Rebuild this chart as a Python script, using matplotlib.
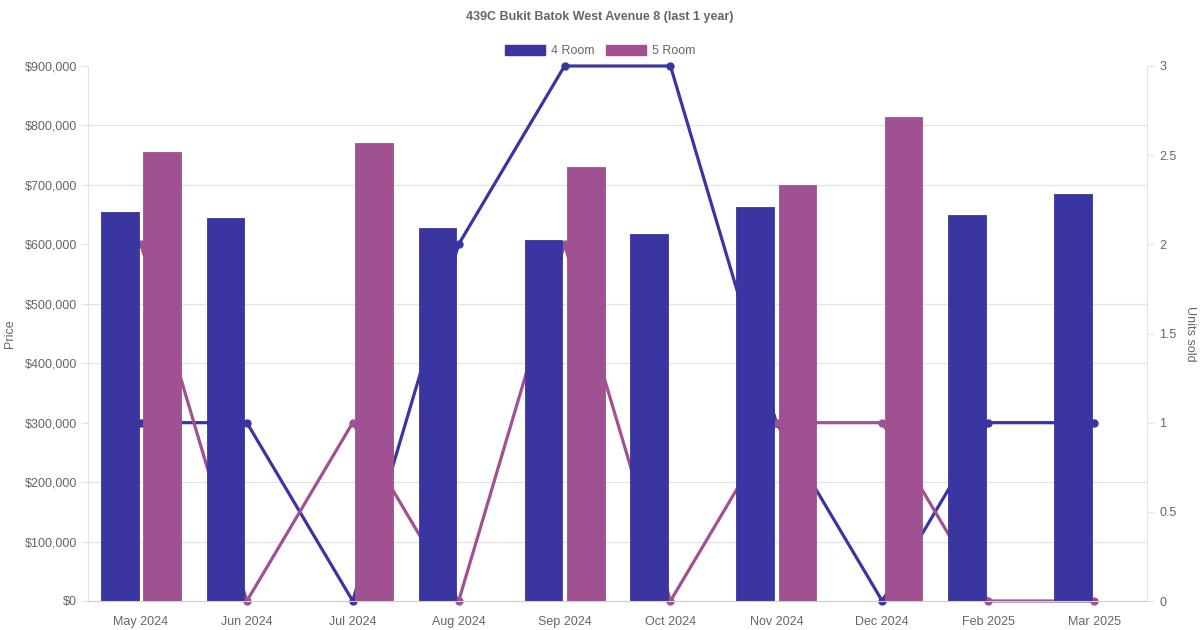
import matplotlib
matplotlib.use("Agg")
import matplotlib.pyplot as plt
from matplotlib.patches import Patch
from matplotlib.ticker import FuncFormatter, MultipleLocator
import numpy as np

plt.rcParams['font.family'] = ['Liberation Sans', 'DejaVu Sans']

months = ["May 2024", "Jun 2024", "Jul 2024", "Aug 2024", "Sep 2024",
          "Oct 2024", "Nov 2024", "Dec 2024", "Feb 2025", "Mar 2025"]
price_4room = [655000, 645000, np.nan, 628000, 607000, 617000, 663000, np.nan, 650000, 685000]
price_5room = [755000, np.nan, 770000, np.nan, 730000, np.nan, 700000, 815000, np.nan, np.nan]
units_4room = [1, 1, 0, 2, 3, 3, 1, 0, 1, 1]
units_5room = [2, 0, 1, 0, 2, 0, 1, 1, 0, 0]

c4 = "#3a35a0"
c5 = "#a05192"
grid_c = "#e4e4e4"
text_c = "#666666"

fig = plt.figure(figsize=(12, 6.3), dpi=100)
ax2 = fig.add_axes([88/1200, 29/630, (1147-88)/1200, (601-66)/630])
ax = ax2.twinx()
# bars on top of lines
ax.set_zorder(ax2.get_zorder() + 1)
ax.patch.set_visible(False)

x = np.arange(len(months))
w = 0.355
ax.bar(x - 0.2, price_4room, width=w, color=c4, edgecolor=c4, linewidth=0.6, joinstyle='round', zorder=3)
ax.bar(x + 0.2, price_5room, width=w, color=c5, edgecolor=c5, linewidth=0.6, joinstyle='round', zorder=3)

ax2.plot(x, units_4room, color=c4, lw=2.3, marker='o', ms=5, zorder=3, clip_on=False)
ax2.plot(x, units_5room, color=c5, lw=2.3, marker='o', ms=5, zorder=3, clip_on=False)

# axes limits
ax.set_xlim(-0.5, len(months) - 0.5)
ax2.set_xlim(-0.5, len(months) - 0.5)
ax.set_ylim(0, 900000)
ax2.set_ylim(0, 3)

# price axis is on the left, units on the right
ax.yaxis.tick_left()
ax.yaxis.set_label_position("left")
ax2.yaxis.tick_right()
ax2.yaxis.set_label_position("right")

ax.yaxis.set_major_locator(MultipleLocator(100000))
ax.yaxis.set_major_formatter(FuncFormatter(lambda v, p: "${:,.0f}".format(v)))
ax2.yaxis.set_major_locator(MultipleLocator(0.5))
ax2.yaxis.set_major_formatter(FuncFormatter(lambda v, p: "{:g}".format(v)))

# grid drawn on lower axes, aligned with price ticks
ax2.yaxis.set_minor_locator(MultipleLocator(1/3))
ax2.grid(True, which='minor', axis='y', color=grid_c, lw=0.9, zorder=0)
ax2.grid(False, which='major')
ax2.tick_params(axis='y', which='minor', length=0)
ax2.set_axisbelow(True)

ax2.set_xticks(x)
ax2.set_xticklabels(months)
ax2.tick_params(axis='x', length=0, pad=11, labelsize=9, labelcolor=text_c)
ax.tick_params(axis='y', length=5, width=0.9, color=grid_c, pad=3, labelsize=9, labelcolor=text_c)
ax2.tick_params(axis='y', which='major', length=5, width=0.9, color=grid_c, pad=4, labelsize=9, labelcolor=text_c)

for a in (ax, ax2):
    for s in a.spines.values():
        s.set_visible(False)
ax2.spines['left'].set_visible(True)
ax2.spines['left'].set_color(grid_c)
ax2.spines['right'].set_visible(True)
ax2.spines['right'].set_color(grid_c)
ax.spines['bottom'].set_visible(True)
ax.spines['bottom'].set_color("#cfcfcf")
ax.spines['bottom'].set_zorder(5)

ax.set_ylabel("Price", color=text_c, fontsize=9, labelpad=6)
ax2.set_ylabel("Units sold", color=text_c, fontsize=9, rotation=270, labelpad=14)

fig.text(0.5, 1 - 17/630, "439C Bukit Batok West Avenue 8 (last 1 year)",
         ha='center', va='center', fontsize=9, fontweight='bold', color=text_c)

handles = [Patch(facecolor=c4, edgecolor=c4, label="4 Room"),
           Patch(facecolor=c5, edgecolor=c5, label="5 Room")]
fig.legend(handles=handles, loc='center', bbox_to_anchor=(0.5, 1 - 51/630), ncol=2,
           frameon=False, fontsize=9, labelcolor=text_c, handlelength=3.2,
           handleheight=0.9, handletextpad=0.5, columnspacing=0.9)

fig.savefig("out.png", dpi=100)
